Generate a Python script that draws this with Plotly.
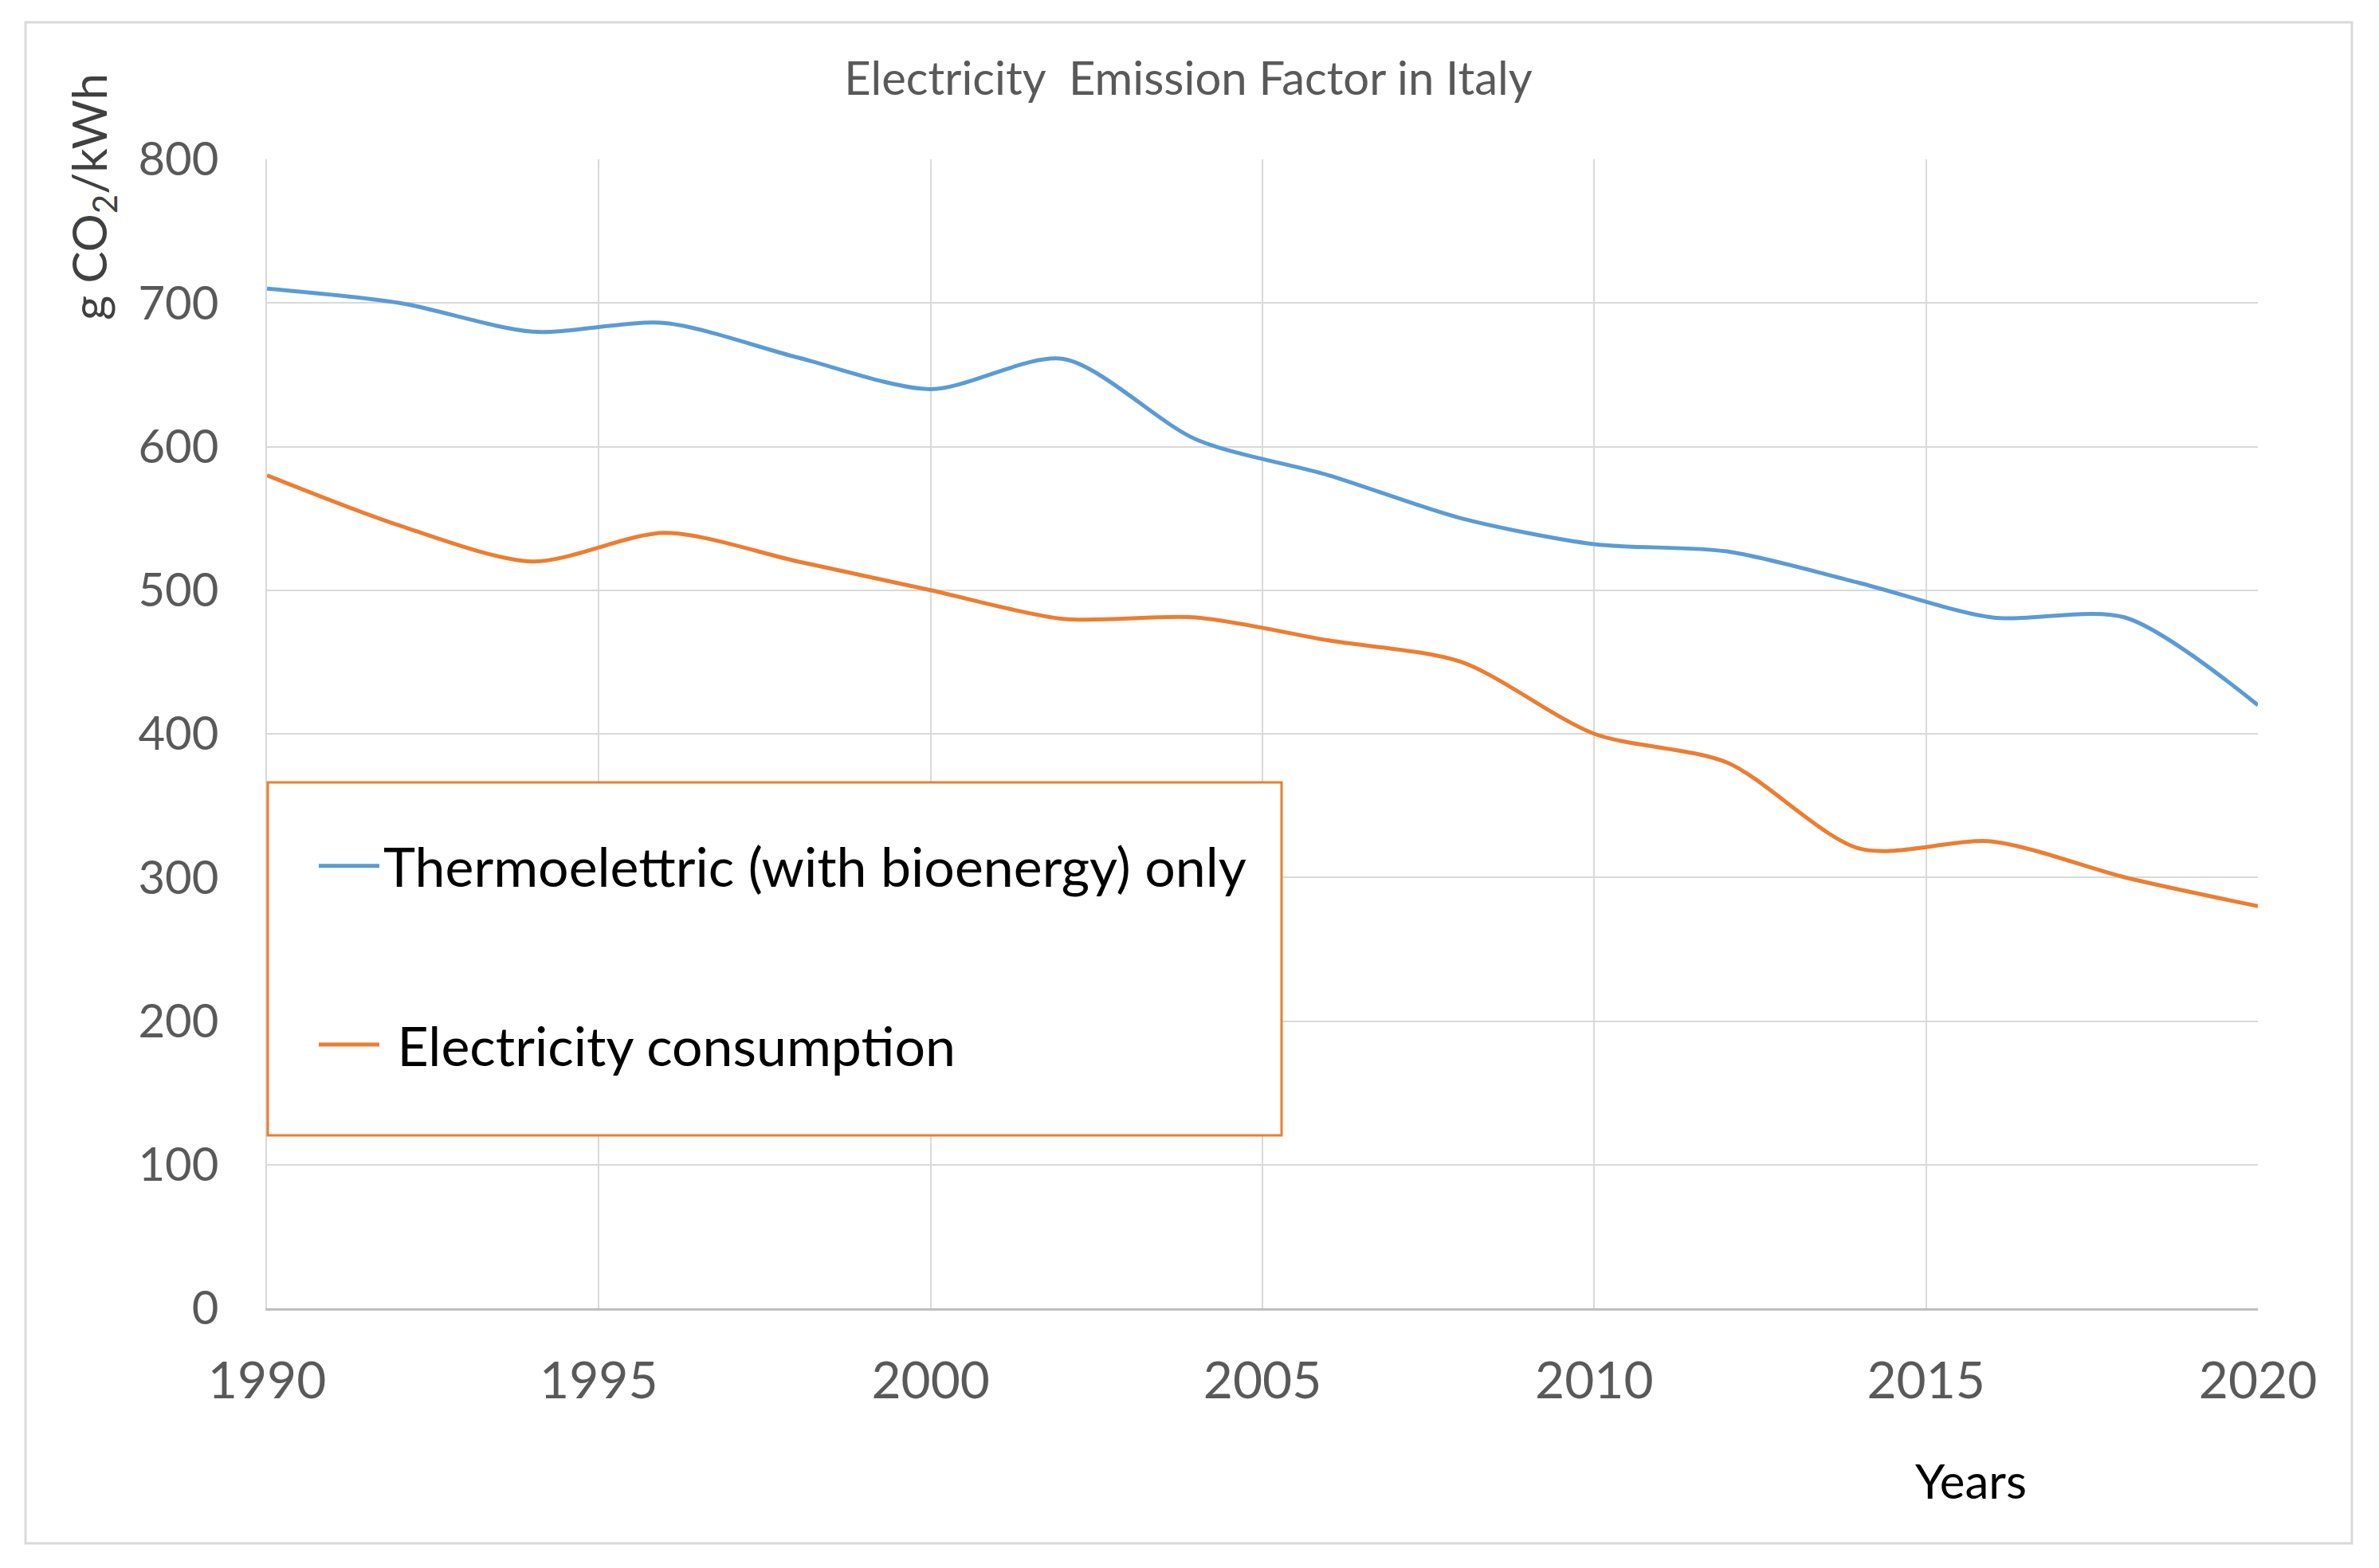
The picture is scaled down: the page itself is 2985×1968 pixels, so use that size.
import plotly.graph_objects as go

years = [1990, 1992, 1994, 1996, 1998, 2000, 2002, 2004, 2006, 2008, 2010, 2012, 2014, 2016, 2018, 2020]
thermo = [710, 700, 680, 686, 662, 640, 661, 605, 580, 550, 532, 527, 505, 481, 481, 420]
consumption = [580, 545, 520, 540, 520, 500, 480, 481, 465, 450, 400, 380, 320, 325, 300, 280]

x_ticks = [1990, 1995, 2000, 2005, 2010, 2015, 2020]
y_ticks = [0, 100, 200, 300, 400, 500, 600, 700, 800]

W, H = 2985, 1968
OFF = 8  # page body margin offset
# target screen positions of the plot area
SX0, SX1, SY0, SY1 = 335, 2833, 200, 1642
L = SX0 - OFF
T = SY0 - OFF
R = W - (SX1 - OFF)
B = H - (SY1 - OFF)
PW, PH = W - L - R, H - T - B

def px(xs):
    return (xs - OFF - L) / PW

def py(ys):
    return (H - B - (ys - OFF)) / PH

FONT = "Lato"
BLUE = "#5B9BD5"
ORANGE = "#ED7D31"

fig = go.Figure()
fig.add_trace(go.Scatter(x=years, y=thermo, mode="lines", name="Thermoelettric (with bioenergy) only",
                         line=dict(color=BLUE, width=5, shape="spline", smoothing=0.8),
                         legendgroup="a"))
fig.add_trace(go.Scatter(x=years, y=consumption, mode="lines", name=" Electricity consumption",
                         line=dict(color=ORANGE, width=5, shape="spline", smoothing=0.8),
                         legendgroup="b"))

fig.update_layout(
    width=W, height=H,
    margin=dict(l=L, r=R, t=T, b=B),
    paper_bgcolor="white", plot_bgcolor="white",
    font=dict(family=FONT, color="#595959"),
    title=dict(text="Electricity\u00a0 Emission Factor in Italy", xref="container",
               x=(1491 - OFF) / W, xanchor="center",
               yref="container", y=1 - (99 - OFF) / H, yanchor="middle",
               font=dict(size=58, color="#595959")),
    showlegend=True,
    legend=dict(x=px(395), y=py(1036), xanchor="left", yanchor="top",
                bgcolor="rgba(0,0,0,0)", borderwidth=0,
                font=dict(size=68, color="black", family=FONT),
                traceorder="grouped", tracegroupgap=133, itemwidth=76),
)

fig.update_xaxes(range=[1990, 2020], tickvals=x_ticks, ticktext=[str(v) for v in x_ticks],
                 showgrid=True, gridcolor="#d9d9d9", gridwidth=2,
                 showline=True, linecolor="#bfbfbf", linewidth=3,
                 ticks="", ticklabelstandoff=33,
                 tickfont=dict(size=64, color="#595959", family=FONT), zeroline=False)
fig.update_yaxes(range=[0, 800], tickvals=y_ticks, ticktext=[str(v) for v in y_ticks],
                 showgrid=True, gridcolor="#d9d9d9", gridwidth=2,
                 showline=True, linecolor="#d9d9d9", linewidth=2,
                 ticks="", ticklabelstandoff=47,
                 tickfont=dict(size=58, color="#595959", family=FONT), zeroline=False)

# outer chart border
fig.add_shape(type="rect", xref="paper", yref="paper",
              x0=px(32), x1=px(2951), y0=py(1937), y1=py(28),
              line=dict(color="#d9d9d9", width=3), fillcolor="rgba(0,0,0,0)", layer="below")
# legend box
fig.add_shape(type="rect", xref="paper", yref="paper",
              x0=px(336), x1=px(1608), y0=py(1425), y1=py(982),
              line=dict(color=ORANGE, width=3), fillcolor="white", layer="above")

# y axis title
fig.add_annotation(text="g CO<sub>2</sub>/kWh", xref="paper", yref="paper",
                   x=px(115), y=py(90), xanchor="center", yanchor="top",
                   textangle=-90, showarrow=False,
                   font=dict(size=60, color="#404040", family=FONT))
# x axis title
fig.add_annotation(text="Years", xref="paper", yref="paper",
                   x=px(2473), y=py(1858), xanchor="center", yanchor="middle",
                   showarrow=False, font=dict(size=60, color="black", family=FONT))

fig.write_html("out.html")
